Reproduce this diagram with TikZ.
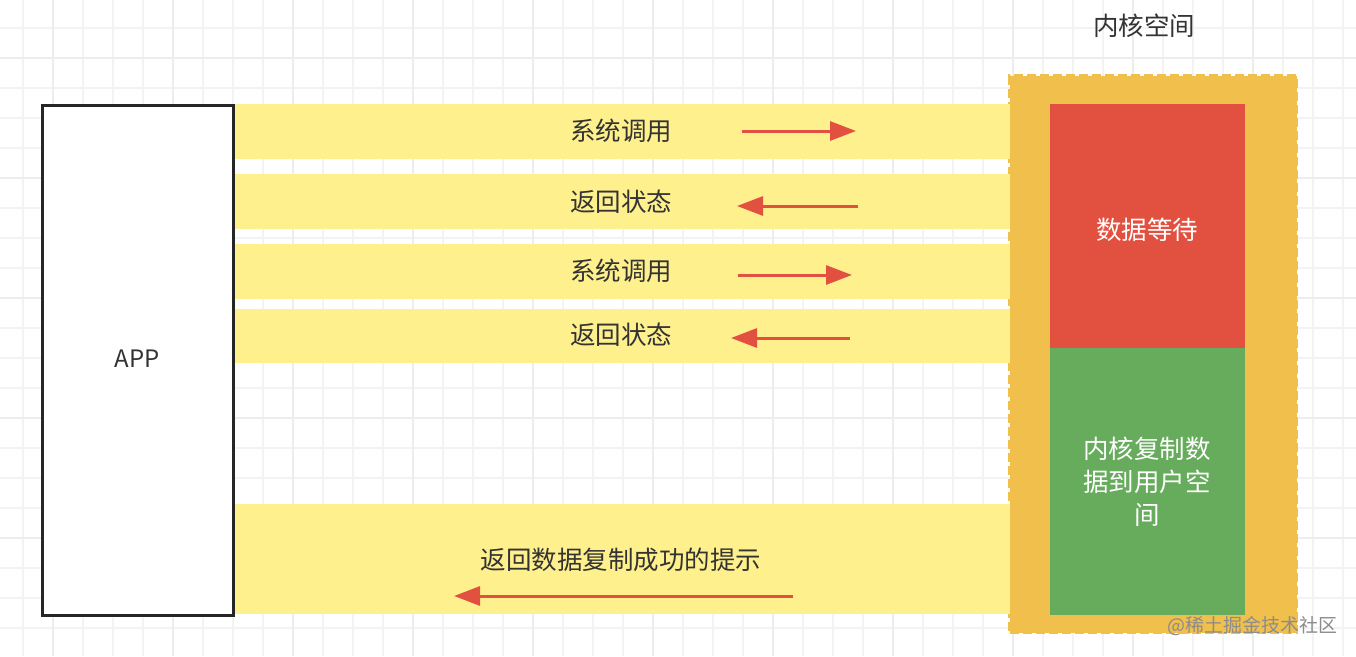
\documentclass[tikz,border=0pt]{standalone}
\usepackage{fontspec}
\setmainfont{Noto Sans CJK SC}
\newfontfamily\cjk{Noto Sans CJK SC}
\usetikzlibrary{arrows.meta}
\definecolor{bandY}{HTML}{FFF08E}
\definecolor{kernO}{HTML}{F0BF4C}
\definecolor{waitR}{HTML}{E25140}
\definecolor{copyG}{HTML}{67AB5C}
\definecolor{txt}{HTML}{333333}
\definecolor{gridc}{HTML}{F3F3F3}
\definecolor{gridm}{HTML}{EDEDED}
\begin{document}
\begin{tikzpicture}[x=1pt,y=-1pt,
  lbl/.style={font=\fontsize{25.5}{30}\selectfont\cjk, text=txt, inner sep=0pt},
  band/.style={fill=bandY, draw=none, minimum width=778pt, inner sep=0pt, anchor=north west},
  redarrow/.style={draw=waitR, line width=3pt, -{Triangle[length=26pt,width=19pt]}},
  kbox/.style={draw=none, minimum width=195pt, inner sep=0pt, anchor=north west, text=white,
    font=\fontsize{25.5}{33}\selectfont\cjk, align=center}]
\useasboundingbox (0,0) rectangle (1356,656);
\fill[white] (0,0) rectangle (1356,656);
% grid
\foreach \x in {23,53,...,1356} \draw[gridc, line width=1.2pt] (\x,0) -- (\x,656);
\foreach \y in {28,58,...,656} \draw[gridc, line width=1.2pt] (0,\y) -- (1356,\y);
\foreach \x in {53,173,...,1356} \draw[gridm, line width=1.5pt] (\x,0) -- (\x,656);
\foreach \y in {58,178,...,656} \draw[gridm, line width=1.5pt] (0,\y) -- (1356,\y);

% kernel container
\node[fill=kernO, draw=kernO, line width=3pt, dash pattern=on 9pt off 4pt,
  minimum width=287pt, minimum height=557pt, inner sep=0pt, anchor=north west] (kernel) at (1008,74) {};
\node[lbl] (kerneltitle) at (1144,26) {内核空间};
\node[kbox, fill=waitR, minimum height=244pt] (wait) at (1050,104) {};
\node[text=white, font=\fontsize{25.5}{33}\selectfont\cjk, inner sep=0pt] (waittext) at (1147,230) {数据等待};
\node[kbox, fill=copyG, minimum height=267pt] (copy) at (1050,348) {};
\node[text=white, font=\fontsize{25.5}{33}\selectfont\cjk, align=center, inner sep=0pt] (copytext) at (1147,482) {内核复制数\\据到用户空\\间};

% bands
\node[band, minimum height=55pt] (b1) at (232,104) {};
\node[band, minimum height=55pt] (b2) at (232,174) {};
\node[band, minimum height=55pt] (b3) at (232,244) {};
\node[band, minimum height=54pt] (b4) at (232,309) {};
\node[band, minimum height=110pt] (b5) at (232,504) {};

% APP
\node[draw=black!85, line width=3pt, fill=white, minimum width=191pt, minimum height=510pt,
  inner sep=0pt, anchor=north west] (app) at (41,104) {};
\node[font=\fontsize{24}{28}\selectfont, text=txt, inner sep=0pt] (apptext) at (137,359) {APP};

% labels
\node[lbl] (t1) at (621,131) {系统调用};
\node[lbl] (t2) at (621,202) {返回状态};
\node[lbl] (t3) at (621,271) {系统调用};
\node[lbl] (t4) at (621,335) {返回状态};
\node[lbl] (t5) at (621,560) {返回数据复制成功的提示};

% arrows
\coordinate (a1s) at (742,131); \coordinate (a1e) at (856,131);
\coordinate (a2s) at (858,206); \coordinate (a2e) at (737,206);
\coordinate (a3s) at (738,275); \coordinate (a3e) at (852,275);
\coordinate (a4s) at (850,338); \coordinate (a4e) at (731,338);
\coordinate (a5s) at (793,596); \coordinate (a5e) at (454,596);
\draw[redarrow] (a1s) -- (a1e);
\draw[redarrow] (a2s) -- (a2e);
\draw[redarrow] (a3s) -- (a3e);
\draw[redarrow] (a4s) -- (a4e);
\draw[redarrow] (a5s) -- (a5e);

% watermark
\node[anchor=east, inner sep=0pt, text=black!45, font=\fontsize{19}{22}\selectfont\cjk] (wm) at (1338,626) {@稀土掘金技术社区};
\end{tikzpicture}
\end{document}
